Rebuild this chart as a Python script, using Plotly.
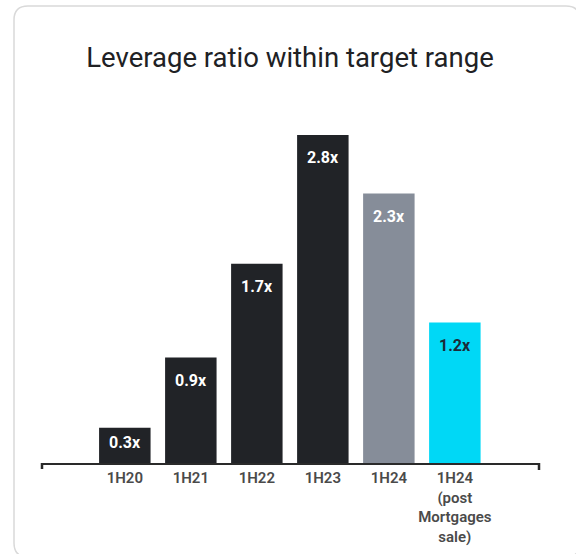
import plotly.graph_objects as go

# ---- data ----
categories = ["1H20", "1H21", "1H22", "1H23", "1H24", "1H24 post"]
tick_labels = ["1H20", "1H21", "1H22", "1H23", "1H24", "1H24<br>(post<br>Mortgages<br>sale)"]
values = [0.3, 0.9, 1.7, 2.8, 2.3, 1.2]
value_labels = ["0.3x", "0.9x", "1.7x", "2.8x", "2.3x", "1.2x"]
bar_colors = ["#212327", "#212327", "#212327", "#212327", "#868D99", "#00D8F6"]
label_colors = ["#FFFFFF", "#FFFFFF", "#FFFFFF", "#FFFFFF", "#FFFFFF", "#1B2A38"]
title_text = "Leverage ratio within target range"

# ---- layout geometry (pixels) ----
W, H = 576, 554
m_l, m_r, m_t, m_b = 41, 36, 88, 91
plot_w = W - m_l - m_r
plot_h = H - m_t - m_b
y_max = 3.2
px_per_unit = plot_h / y_max
x_range = [-1.27, 6.29]

FONT = "Roboto, 'Noto Sans', sans-serif"

fig = go.Figure()
fig.add_trace(go.Bar(
    x=list(range(len(categories))),
    y=values,
    marker=dict(color=bar_colors, line=dict(width=0)),
    width=0.78,
    hoverinfo="skip",
))

annotations = []
for i, (v, lab, c) in enumerate(zip(values, value_labels, label_colors)):
    bar_px = v * px_per_unit
    shift = -min(23, bar_px / 2 - 2.5)
    annotations.append(dict(
        x=i, y=v, xref="x", yref="y", text=f"<b>{lab}</b>", showarrow=False,
        yanchor="middle", yshift=shift,
        font=dict(family=FONT, size=16, color=c),
    ))

# card outline (rounded rectangle) in paper coordinates
def px2paper_x(px):
    return (px - m_l) / plot_w

def px2paper_y(py):
    return (H - m_b - py) / plot_h

cl, cr, ct, cb, r = 14, 580, 6, 557, 14
x0, x1 = px2paper_x(cl), px2paper_x(cr)
y0, y1 = px2paper_y(cb), px2paper_y(ct)
rx = r / plot_w
ry = r / plot_h
path = (
    f"M {x0+rx},{y1} L {x1-rx},{y1} Q {x1},{y1} {x1},{y1-ry} "
    f"L {x1},{y0+ry} Q {x1},{y0} {x1-rx},{y0} "
    f"L {x0+rx},{y0} Q {x0},{y0} {x0},{y0+ry} "
    f"L {x0},{y1-ry} Q {x0},{y1} {x0+rx},{y1} Z"
)
shapes = [
    dict(type="path", path=path, xref="paper", yref="paper",
         line=dict(color="#D9D9D9", width=1.5), fillcolor="rgba(0,0,0,0)", layer="below"),
    dict(type="line", xref="paper", yref="paper", x0=0.002, x1=0.002, y0=0, y1=-6 / plot_h,
         line=dict(color="#2A2A2A", width=2.5)),
    dict(type="line", xref="paper", yref="paper", x0=0.998, x1=0.998, y0=0, y1=-7 / plot_h,
         line=dict(color="#2A2A2A", width=2.5)),
]

fig.update_layout(
    width=W, height=H,
    margin=dict(l=m_l, r=m_r, t=m_t, b=m_b, pad=0, autoexpand=False),
    paper_bgcolor="white", plot_bgcolor="white",
    showlegend=False,
    title=dict(text=title_text, x=290 / W, xanchor="center", y=1 - 57 / H, yanchor="middle",
               font=dict(family=FONT, size=27.5, color="#202124")),
    xaxis=dict(
        range=x_range, tickmode="array", tickvals=list(range(len(categories))),
        ticktext=tick_labels, showline=True, linecolor="#2A2A2A", linewidth=2,
        ticks="", showgrid=False, zeroline=False, fixedrange=True, automargin=False,
        tickfont=dict(family=FONT, size=15, color="#4A4A4A", weight=600),
        ticklabelstandoff=0,
    ),
    yaxis=dict(range=[0, y_max], visible=False, showgrid=False, zeroline=False,
               fixedrange=True, automargin=False),
    annotations=annotations,
    shapes=shapes,
    bargap=0.22,
)

fig.write_html("out.html")
